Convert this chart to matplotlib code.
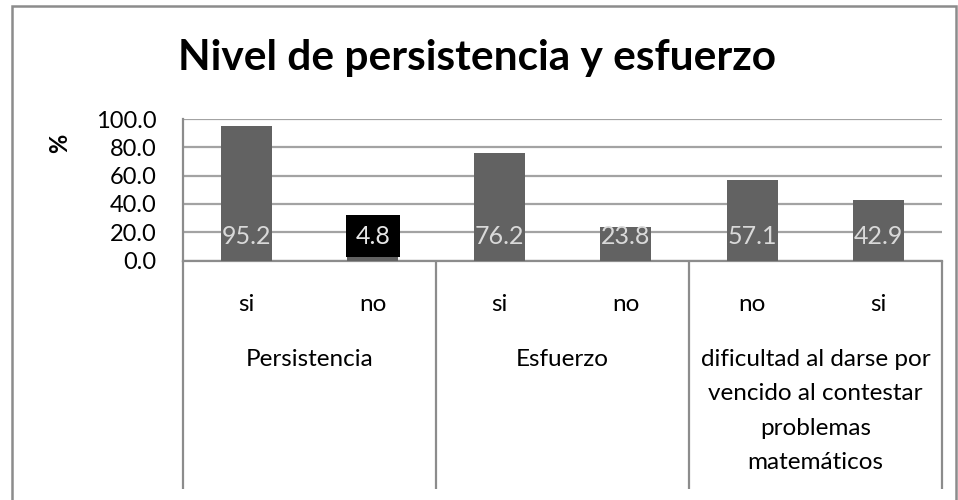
import matplotlib
matplotlib.use("Agg")
import matplotlib.pyplot as plt
from matplotlib.patches import Rectangle

plt.rcParams['font.family'] = ['Lato', 'DejaVu Sans']

title = "Nivel de persistencia y esfuerzo"
ylabel = "%"
sub_labels = ["si", "no", "si", "no", "no", "si"]
values = [95.2, 4.8, 76.2, 23.8, 57.1, 42.9]
groups = ["Persistencia", "Esfuerzo",
          "dificultad al darse por\nvencido al contestar\nproblemas\nmatemáticos"]
group_sizes = [2, 2, 2]
yticks = [0, 20, 40, 60, 80, 100]

W, H = 958, 500
fig = plt.figure(figsize=(W / 100, H / 100), dpi=100)
fig.patch.set_facecolor("white")

# outer chart border
fig.add_artist(Rectangle((11.5 / W, -0.1), (955.5 - 11.5) / W, 1.1 - 6.5 / H,
                         transform=fig.transFigure, fill=False,
                         edgecolor="#8c8c8c", linewidth=1.8))

left, right, top, bottom = 183, 942, 119, 260.5
ax = fig.add_axes([left / W, 1 - bottom / H, (right - left) / W, (bottom - top) / H])

x = list(range(len(values)))
bar_color = "#626262"
ax.bar(x, values, width=0.4, color=bar_color, zorder=3)
ax.set_xlim(-0.5, len(values) - 0.5)
ax.set_ylim(0, 100)
ax.set_yticks(yticks)
ax.set_yticklabels([f"{v:.1f}" for v in yticks], fontsize=17)
ax.yaxis.grid(True, color="#a3a3a3", linewidth=1.6, zorder=0)
ax.tick_params(axis="y", length=0, pad=19)
for s in ["top", "right"]:
    ax.spines[s].set_visible(False)
ax.spines["left"].set_color("#8c8c8c")
ax.spines["left"].set_linewidth(1.6)
ax.spines["bottom"].set_color("#8c8c8c")
ax.spines["bottom"].set_linewidth(1.6)

ax.set_xticks(x)
ax.set_xticklabels(sub_labels, fontsize=17.5)
ax.tick_params(axis="x", length=0, pad=24)

# data labels at inside base
for xi, v in zip(x, values):
    if abs(v - 4.8) < 1e-9:
        ax.annotate(f"{v:.1f}", (xi, 0), xytext=(0, 17.5), textcoords="offset points",
                    ha="center", va="center", fontsize=18, color="#e6e6e6", zorder=5,
                    bbox=dict(boxstyle="square,pad=0.38", fc="black", ec="none"))
    else:
        ax.annotate(f"{v:.1f}", (xi, 0), xytext=(0, 17.5), textcoords="offset points",
                    ha="center", va="center", fontsize=18, color="#d9d9d9", zorder=5)

# category table below axis
ybot = -(489 - bottom) / (bottom - top) * 100
pos = -0.5
seps = [pos]
for g, n in zip(groups, group_sizes):
    center = pos + n / 2
    ax.text(center, -(349 - bottom) / (bottom - top) * 100, g, ha="center", va="top",
            fontsize=17.5, linespacing=1.78, clip_on=False)
    pos += n
    seps.append(pos)
ax.vlines(seps, ybot, 0, colors="#8c8c8c", linewidth=1.6, clip_on=False)

fig.text(60 / W, 1 - 143 / H, ylabel, ha="center", va="center", rotation=90,
         fontsize=17, fontweight="bold")
fig.text(477 / W, 1 - 58 / H, title, ha="center", va="center",
         fontsize=30.5, fontweight="bold")

fig.savefig("out.png", dpi=100)
